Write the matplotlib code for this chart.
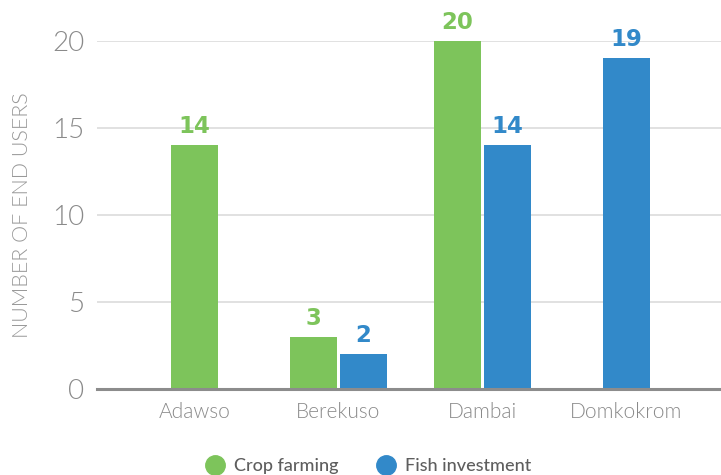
import matplotlib
matplotlib.use("Agg")
import matplotlib.pyplot as plt
from matplotlib.lines import Line2D

# Number of end users per community and activity
communities = ["Adawso", "Berekuso", "Dambai", "Domkokrom"]
crop_farming = [14, 3, 20, None]
fish_investment = [None, 2, 14, 19]
series_names = ["Crop farming", "Fish investment"]
y_ticks = [0, 5, 10, 15, 20]

GREEN = "#7dc45b"
BLUE = "#3289c9"
TICK_GREY = "#8a8a8a"

W, H, DPI = 721, 475, 100
fig = plt.figure(figsize=(W / DPI, H / DPI), dpi=DPI)
ax = fig.add_axes([97 / W, (H - 389) / H, 1 - 97 / W, (389 - 41) / H])

bar_w = 0.326
offset = 0.174

for i, (c, f) in enumerate(zip(crop_farming, fish_investment)):
    both = c is not None and f is not None
    for val, col, sign in ((c, GREEN, -1), (f, BLUE, 1)):
        if val is None:
            continue
        x = i + sign * offset if both else i
        ax.bar(x, val, width=bar_w, color=col, zorder=3)
        ax.annotate(str(val), (x, val), xytext=(0, 5), textcoords="offset points",
                    ha="center", va="bottom", color=col, fontsize=16.5,
                    fontweight="black", family="DejaVu Sans", clip_on=False)

ax.set_xlim(-0.677, 3.656)
ax.set_ylim(0, 20)
ax.set_yticks(y_ticks)
ax.set_xticks(range(len(communities)))
ax.set_xticklabels(communities)

for y in y_ticks[1:]:
    ax.axhline(y, color="#dcdcdc", lw=1.2, zorder=1)
ax.axhline(0, color="#8c8c8c", lw=2.2, zorder=4, clip_on=False)

for s in ax.spines.values():
    s.set_visible(False)
ax.tick_params(axis="both", length=0)
ax.tick_params(axis="y", pad=9, labelsize=20, labelcolor=TICK_GREY)
ax.tick_params(axis="x", pad=9, labelsize=15, labelcolor=TICK_GREY)
for lab in ax.get_yticklabels() + ax.get_xticklabels():
    lab.set_family("Lato")
    lab.set_fontweight(300)

fig.text(22 / W, 1 - 215 / H, "NUMBER OF END USERS", rotation=90, ha="center",
         va="center", fontsize=15.5, color="#999999", family="Lato", fontweight=300)

handles = [Line2D([], [], marker="o", ls="", markersize=14, color=GREEN),
           Line2D([], [], marker="o", ls="", markersize=14, color=BLUE)]
fig.legend(handles, series_names, loc="center", bbox_to_anchor=(364 / W, 1 - 466 / H),
           ncol=2, frameon=False, handletextpad=0.05, columnspacing=1.6,
           prop={"family": "Lato", "size": 13, "weight": "medium"}, labelcolor="#5e5e5e")

fig.savefig("out.png", dpi=DPI)
